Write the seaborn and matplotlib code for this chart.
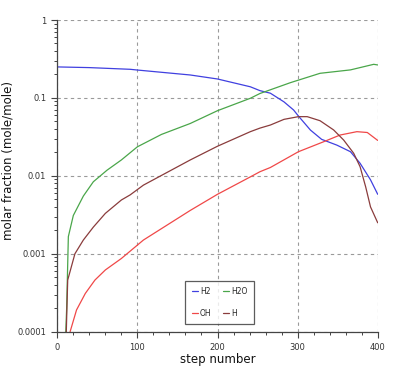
import matplotlib
matplotlib.use("Agg")
import matplotlib.pyplot as plt
import matplotlib.ticker as mticker
import numpy as np
import pandas as pd
import seaborn as sns

# ---- data ----
H2_step = [0, 40, 91, 100, 166, 200, 241, 253, 266, 283, 295, 301, 316, 330, 349, 366, 378, 391, 400]
H2_val = [0.25, 0.245, 0.233, 0.228, 0.197, 0.175, 0.139, 0.124, 0.115, 0.089, 0.070, 0.0586, 0.0387,
          0.0294, 0.0248, 0.0204, 0.0145, 0.0089, 0.0058]

H2O_step = [9.5, 11.7, 13.8, 20, 32.5, 45, 62, 80, 100, 130, 166, 200, 241, 253, 291, 328, 366, 395, 400]
H2O_val = [0.00005, 0.0002, 0.00166, 0.0031, 0.0055, 0.0084, 0.0118, 0.016, 0.0236, 0.034, 0.047,
           0.0686, 0.099, 0.114, 0.157, 0.207, 0.229, 0.27, 0.265]

OH_step = [15, 16, 24, 35, 47, 60, 80, 107.5, 166, 200, 241, 253, 266, 301, 332.5, 353, 374, 387, 400]
OH_val = [0.00007, 0.0001, 0.00019, 0.00031, 0.00046, 0.00062, 0.00087, 0.0015, 0.0036, 0.0058,
          0.0097, 0.0113, 0.0128, 0.0204, 0.0274, 0.0334, 0.0369, 0.036, 0.0285]

H_step = [10.5, 12, 13, 22, 32.5, 45, 60, 80, 91, 107.5, 166, 200, 241, 253, 266, 283, 301, 312, 328,
          345, 357.5, 370, 378, 385, 391, 400]
H_val = [0.00005, 0.0002, 0.00046, 0.001, 0.0015, 0.0022, 0.0033, 0.0049, 0.0057, 0.0076, 0.016,
         0.024, 0.0369, 0.041, 0.0449, 0.0531, 0.0575, 0.0575, 0.051, 0.0388, 0.0288, 0.0195, 0.0131,
         0.0072, 0.004, 0.0025]

species = ["H2", "H2O", "OH", "H"]
colors = {"H2": "#4040e0", "H2O": "#4aa64a", "OH": "#f04848", "H": "#8a3c3c"}

y_ticks = [0.0001, 0.001, 0.01, 0.1, 1]
y_ticklabels = ["0.0001", "0.001", "0.01", "0.1", "1"]
x_ticks = [0, 100, 200, 300, 400]

frames = []
for name, xs, ys in [("H2", H2_step, H2_val), ("H2O", H2O_step, H2O_val),
                     ("OH", OH_step, OH_val), ("H", H_step, H_val)]:
    frames.append(pd.DataFrame({"step": xs, "frac": ys, "species": name}))
df = pd.concat(frames, ignore_index=True)

sns.set_style("ticks")
plt.rcParams["font.family"] = ["DejaVu Sans"]

fig = plt.figure(figsize=(4.11, 3.9), dpi=100)
ax = fig.add_axes([0.1394, 0.1495, 0.919 - 0.1394, 0.9487 - 0.1495])

sns.lineplot(data=df, x="step", y="frac", hue="species", hue_order=species, palette=colors,
             estimator=None, sort=False, linewidth=0.9, ax=ax)

ax.set_yscale("log")
ax.set_xlim(0, 400)
ax.set_ylim(0.0001, 1)
ax.set_yticks(y_ticks)
ax.set_yticklabels(y_ticklabels)
ax.yaxis.set_minor_locator(mticker.LogLocator(base=10, subs=np.arange(2, 10)))
ax.yaxis.set_minor_formatter(mticker.NullFormatter())
ax.set_xticks(x_ticks)
ax.xaxis.set_minor_locator(mticker.MultipleLocator(20))

ax.grid(True, which="major", color="#9a9a9a", linestyle=(0, (3, 3)), linewidth=0.8)
for s in ["top", "right"]:
    ax.spines[s].set_visible(False)
for s in ["left", "bottom"]:
    ax.spines[s].set_color("#444444")
    ax.spines[s].set_linewidth(0.9)

ax.tick_params(axis="both", which="major", direction="out", length=4.5, width=0.8,
               color="#444444", labelsize=6, labelcolor="#333333", pad=3.5,
               left=True, bottom=True)
ax.tick_params(axis="both", which="minor", direction="out", length=2.5, width=0.7,
               color="#444444", left=True, bottom=True)

ax.set_xlabel("step number", fontsize=8.5, color="#111111")
ax.set_ylabel("molar fraction (mole/mole)", fontsize=8.5, color="#111111")
ax.xaxis.set_label_coords(0.5, -0.068)
ax.yaxis.set_label_coords(-0.135, 0.55)

handles, labels = ax.get_legend_handles_labels()
hmap = dict(zip(labels, handles))
order = ["H2", "OH", "H2O", "H"]  # column-major fill -> rows: H2 H2O / OH H
leg = ax.legend([hmap[k] for k in order], order, loc="lower left", bbox_to_anchor=(0.40, 0.025),
                ncol=2, fontsize=5.5, frameon=True, fancybox=False, handlelength=0.8,
                handletextpad=0.3, columnspacing=1.5, labelspacing=1.7, borderpad=0.8,
                borderaxespad=0)
leg.get_frame().set_edgecolor("#333333")
leg.get_frame().set_linewidth(0.9)
for line in leg.get_lines():
    line.set_linewidth(0.9)

fig.savefig("out.png", dpi=100)
